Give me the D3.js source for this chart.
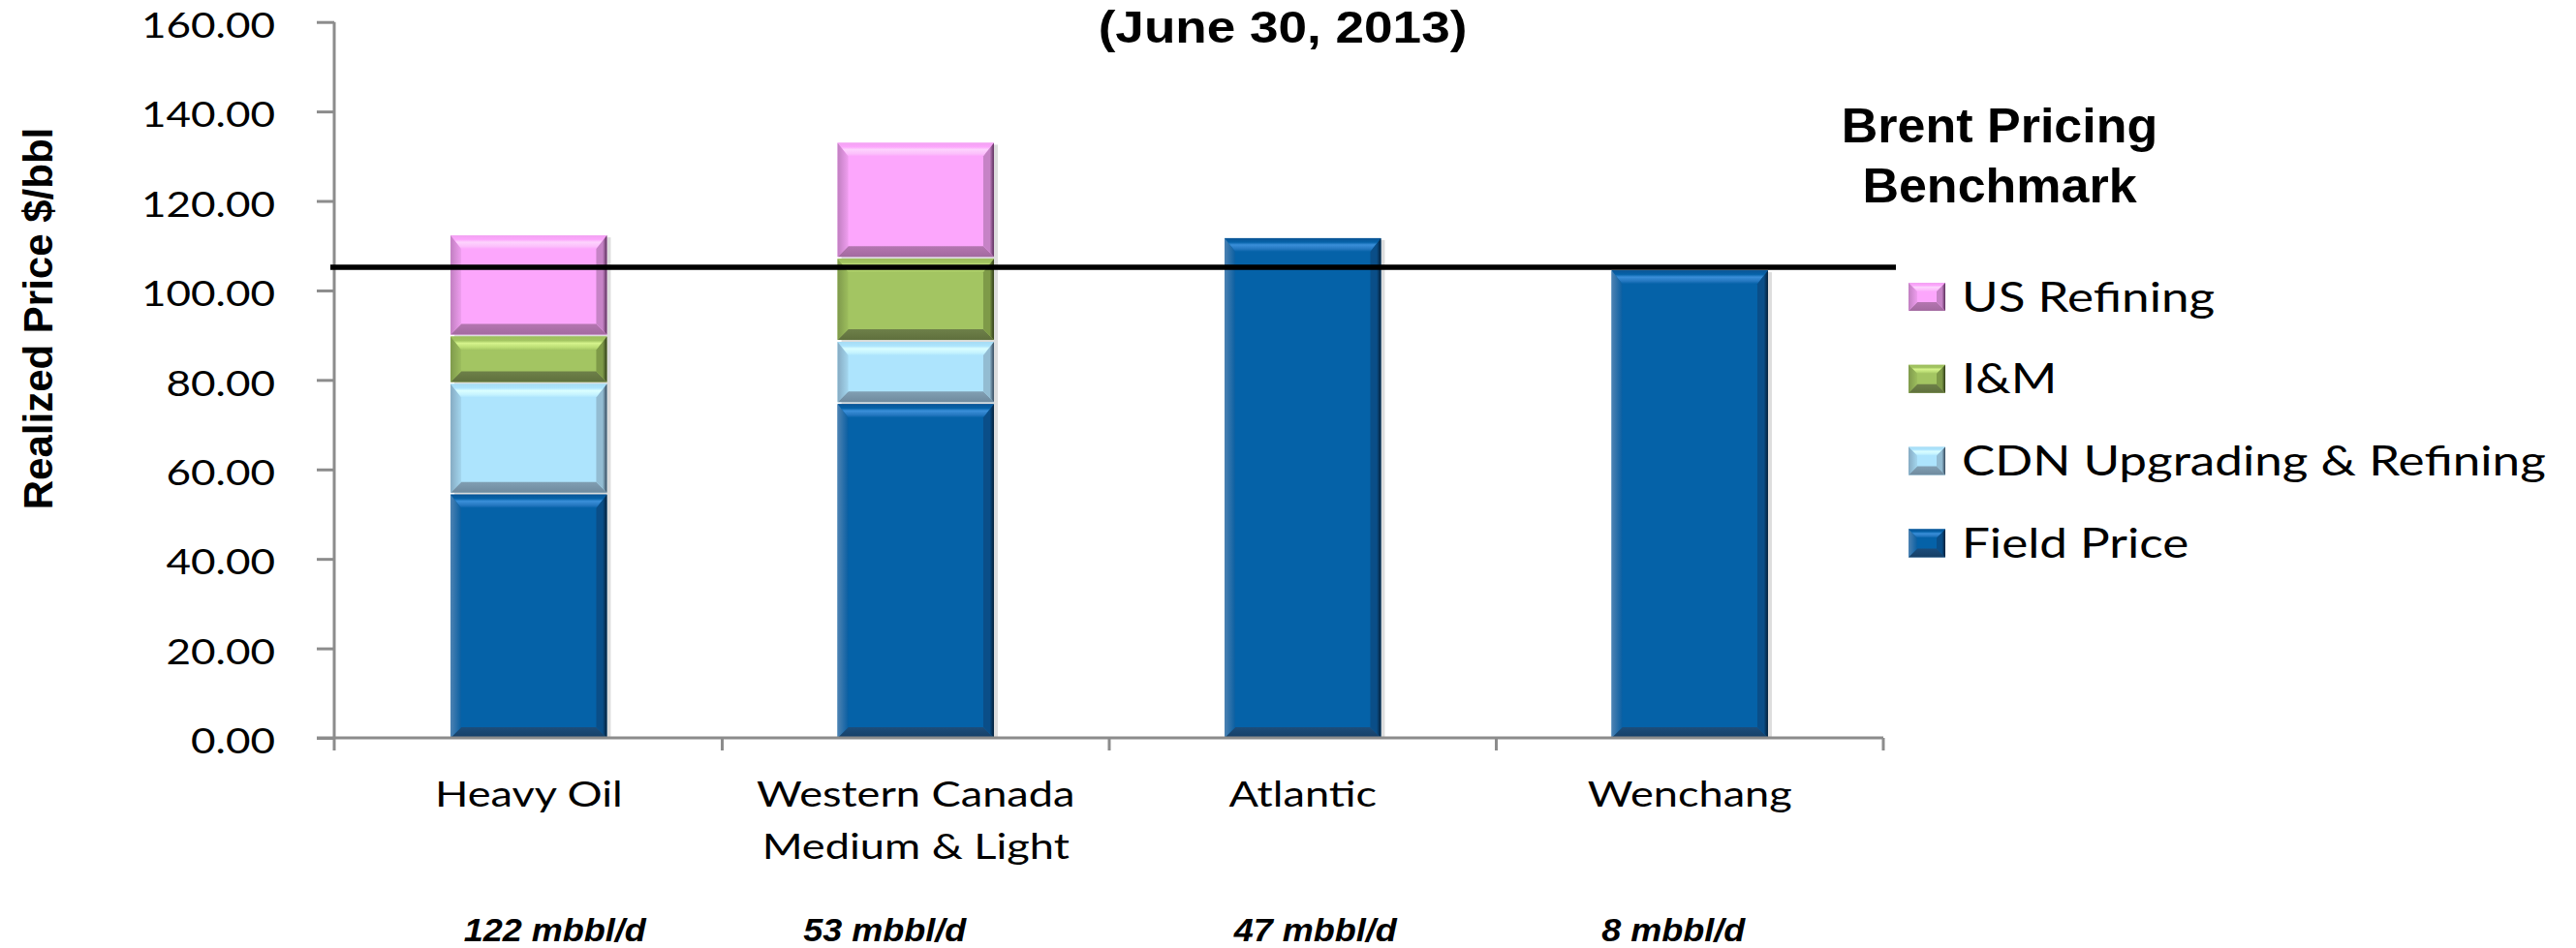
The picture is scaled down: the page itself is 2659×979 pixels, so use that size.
<!DOCTYPE html>
<html>
<head>
<meta charset="utf-8">
<script src="https://cdn.jsdelivr.net/npm/d3@7"></script>
<style>
  html, body { margin: 0; padding: 0; background: #ffffff; }
  svg { display: block; }
</style>
</head>
<body>
<svg id="chart" width="2659" height="979"></svg>
<script>
// ---- data ----
const categories = ["Heavy Oil", "Western Canada\nMedium & Light", "Atlantic", "Wenchang"];
const volumes = ["122 mbbl/d", "53 mbbl/d", "47 mbbl/d", "8 mbbl/d"];
const seriesKeys = ["field", "cdn", "im", "us"];
const seriesNames = ["Field Price", "CDN Upgrading & Refining", "I&M", "US Refining"];
const fieldPrice = [54.4, 74.6, 111.7, 104.5];
const cdnUpgrading = [24.7, 13.9, 0, 0];
const iAndM = [10.6, 18.6, 0, 0];
const usRefining = [22.6, 25.9, 0, 0];
const brentBenchmark = 105.2;
const yTicks = [0, 20, 40, 60, 80, 100, 120, 140, 160];

// ---- layout ----
const W = 2659, H = 979;
const plot = { left: 346, right: 1944, top: 22.7, bottom: 762 };
const volumeShift = [27, -32, 13, -17];   // hand-placed volume captions
const lato = "Lato, 'Open Sans', sans-serif";
const arial = "'Liberation Sans', Arial, sans-serif";

// bevel colours per series
const palette = {
  field: { base: "#0562A8", topOuter: "#0B5495", hi: "#3A8FD9", hi2: "#2477C0",
           leftOuter: "#4D82B2", leftInner: "#0A5FA2", rightInner: "#0A4E88", rightOuter: "#051F38",
           bottomInner: "#1C4D7B", bottomOuter: "#163F66" },
  cdn:   { base: "#ADE4FD", topOuter: "#A6DCF4", hi: "#DAFEFF", hi2: "#C4F3FF",
           leftOuter: "#86ABC3", leftInner: "#A3D6EE", rightInner: "#93BCD2", rightOuter: "#34475A",
           bottomInner: "#819FB3", bottomOuter: "#6F8A9E" },
  im:    { base: "#A3C562", topOuter: "#9DBD5C", hi: "#D5F38C", hi2: "#BBDD74",
           leftOuter: "#7F9A4C", leftInner: "#9CBD5D", rightInner: "#7E9A48", rightOuter: "#2F3B18",
           bottomInner: "#6E8049", bottomOuter: "#5F703D" },
  us:    { base: "#FCA6FC", topOuter: "#F2A2F2", hi: "#FDD3FD", hi2: "#FCC0FC",
           leftOuter: "#C17FC1", leftInner: "#EE9DEE", rightInner: "#C683C6", rightOuter: "#5A2F5A",
           bottomInner: "#B476B0", bottomOuter: "#A36AA0" }
};

const svg = d3.select("#chart");
svg.append("rect").attr("width", W).attr("height", H).attr("fill", "#ffffff");

// ---- gradients ----
const defs = svg.append("defs");
function grad(id, x2, y2, stops) {
  const g = defs.append("linearGradient").attr("id", id)
    .attr("x1", 0).attr("y1", 0).attr("x2", x2).attr("y2", y2);
  stops.forEach(([o, c]) => g.append("stop").attr("offset", o).attr("stop-color", c));
}
Object.entries(palette).forEach(([k, p]) => {
  grad(k + "-top", 0, 1, [[0, p.topOuter], [0.3, p.base], [0.5, p.hi], [0.8, p.hi2], [1, p.base]]);
  grad(k + "-left", 1, 0, [[0, p.leftOuter], [1, p.leftInner]]);
  grad(k + "-right", 1, 0, [[0, p.rightInner], [0.6, p.rightInner], [1, p.rightOuter]]);
  grad(k + "-bottom", 0, 1, [[0, p.bottomInner], [1, p.bottomOuter]]);
});

function drawBevel(g, key, x0, y0, x1, y1, b, bt) {
  const h = y1 - y0;
  b = Math.min(b, h / 3); bt = Math.min(bt, h / 3);
  const pt = a => a.map(p => p.join(",")).join(" ");
  g.append("rect").attr("x", x0).attr("y", y0).attr("width", x1 - x0).attr("height", h)
    .attr("fill", palette[key].base);
  g.append("polygon").attr("fill", `url(#${key}-top)`)
    .attr("points", pt([[x0, y0], [x1, y0], [x1 - b, y0 + bt], [x0 + b, y0 + bt]]));
  g.append("polygon").attr("fill", `url(#${key}-bottom)`)
    .attr("points", pt([[x0, y1], [x0 + b, y1 - b], [x1 - b, y1 - b], [x1, y1]]));
  g.append("polygon").attr("fill", `url(#${key}-left)`)
    .attr("points", pt([[x0, y0], [x0 + b, y0 + bt], [x0 + b, y1 - b], [x0, y1]]));
  g.append("polygon").attr("fill", `url(#${key}-right)`)
    .attr("points", pt([[x1, y0], [x1, y1], [x1 - b, y1 - b], [x1 - b, y0 + bt]]));
}

// ---- scales ----
const x = d3.scaleBand().domain(d3.range(categories.length)).range([plot.left, plot.right]);
const y = d3.scaleLinear().domain([0, 160]).range([plot.bottom, plot.top]);
const barW = x.step() * 0.404;
const cx = i => x(i) + x.bandwidth() / 2;

// ---- stacked bars ----
const rows = categories.map((c, i) => ({
  field: fieldPrice[i], cdn: cdnUpgrading[i], im: iAndM[i], us: usRefining[i]
}));
const stacked = d3.stack().keys(seriesKeys)(rows);
const segments = [];
stacked.forEach(layer => layer.forEach((d, i) => {
  if (d[1] - d[0] > 0) segments.push({ key: layer.key, i, v0: d[0], v1: d[1] });
}));

const bars = svg.append("g");
// soft shadow to the right of each column
categories.forEach((c, i) => {
  const total = d3.sum(seriesKeys, k => rows[i][k]);
  bars.append("rect")
    .attr("x", cx(i) - barW / 2 + 4).attr("y", y(total) + 2)
    .attr("width", barW).attr("height", y(0) - y(total) - 2)
    .attr("fill", "#d2d2d2").attr("opacity", 0.75);
});
segments.forEach(s => {
  const g = bars.append("g");
  const x0 = cx(s.i) - barW / 2, x1 = cx(s.i) + barW / 2;
  const yTop = y(s.v1), yBot = y(s.v0) - (s.v0 > 0 ? 2 : 0);
  drawBevel(g, s.key, x0, yTop, x1, yBot, 11, 14);
});

// ---- axes ----
const axisColor = "#8c8c8c";
const yAxis = svg.append("g").attr("transform", `translate(${plot.left - 1},0)`)
  .call(d3.axisLeft(y).tickValues(yTicks).tickSize(18).tickSizeOuter(0).tickFormat(d3.format(".2f")));
yAxis.select(".domain").remove();
yAxis.selectAll(".tick line").attr("stroke", axisColor).attr("stroke-width", 3);
yAxis.selectAll(".tick text")
  .attr("x", null).attr("dy", null)
  .attr("transform", "translate(-61,15.8) scale(1.19,1)")
  .attr("text-anchor", "end")
  .style("font-family", lato).style("font-size", "37px").attr("fill", "#000");

svg.append("line")
  .attr("x1", plot.left - 1).attr("x2", plot.left - 1)
  .attr("y1", plot.top).attr("y2", plot.bottom + 13)
  .attr("stroke", axisColor).attr("stroke-width", 3);
svg.append("line")
  .attr("x1", plot.left - 19).attr("x2", plot.right)
  .attr("y1", plot.bottom).attr("y2", plot.bottom)
  .attr("stroke", axisColor).attr("stroke-width", 3);
const xBounds = d3.range(categories.length).map(i => x(i)).concat([plot.right]);
svg.append("g").selectAll("line").data(xBounds.slice(1)).join("line")
  .attr("x1", d => d).attr("x2", d => d)
  .attr("y1", plot.bottom).attr("y2", plot.bottom + 13)
  .attr("stroke", axisColor).attr("stroke-width", 3);

// category labels
const catG = svg.append("g");
categories.forEach((c, i) => {
  c.split("\n").forEach((line, li) => {
    catG.append("text")
      .attr("transform", `translate(${cx(i)},${833 + li * 54}) scale(1.22,1)`)
      .attr("text-anchor", "middle")
      .style("font-family", lato).style("font-size", "37px")
      .text(line);
  });
});

// volume captions
volumes.forEach((v, i) => {
  svg.append("text")
    .attr("transform", `translate(${cx(i) + volumeShift[i]},972) scale(1.06,1)`)
    .attr("text-anchor", "middle")
    .style("font-family", arial).style("font-size", "34px")
    .style("font-weight", "bold").style("font-style", "italic")
    .text(v);
});

// y-axis title
svg.append("text")
  .attr("transform", "translate(54,329) rotate(-90)")
  .attr("text-anchor", "middle")
  .style("font-family", arial).style("font-size", "42px").style("font-weight", "bold")
  .text("Realized Price $/bbl");

// chart title line
svg.append("text")
  .attr("transform", "translate(1324,44) scale(1.13,1)")
  .attr("text-anchor", "middle")
  .style("font-family", arial).style("font-size", "47px").style("font-weight", "bold")
  .text("(June 30, 2013)");

// ---- Brent benchmark ----
svg.append("line")
  .attr("x1", plot.left - 5).attr("x2", 1957)
  .attr("y1", y(brentBenchmark)).attr("y2", y(brentBenchmark))
  .attr("stroke", "#000").attr("stroke-width", 5.5);
["Brent Pricing", "Benchmark"].forEach((t, li) => {
  svg.append("text")
    .attr("transform", `translate(2064,${147 + li * 62}) scale(1.04,1)`)
    .attr("text-anchor", "middle")
    .style("font-family", arial).style("font-size", "50px").style("font-weight", "bold")
    .text(t);
});

// ---- legend ----
const legendOrder = [3, 2, 1, 0];
const legend = svg.append("g");
legendOrder.forEach((si, row) => {
  const cy = 306.5 + row * 84.8;
  const g = legend.append("g");
  drawBevel(g, seriesKeys[si], 1970, cy - 14.5, 2008, cy + 14.5, 9, 9);
  legend.append("text")
    .attr("transform", `translate(2025,${cy + 15}) scale(1.22,1)`)
    .style("font-family", lato).style("font-size", "42px")
    .text(seriesNames[si]);
});
</script>
</body>
</html>
